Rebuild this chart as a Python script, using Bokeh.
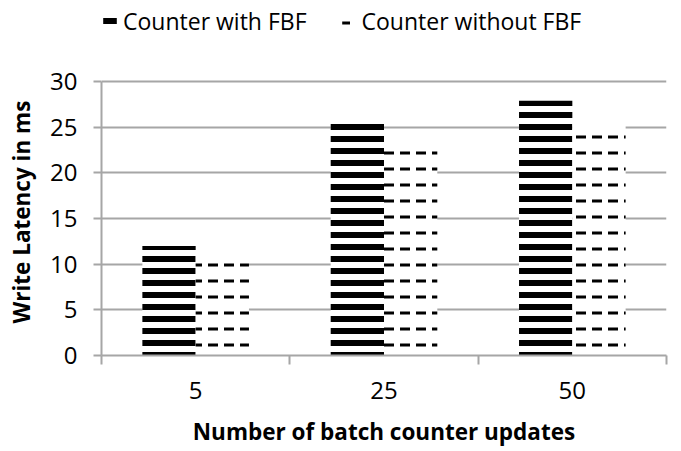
from bokeh.plotting import figure
from bokeh.models import ColumnDataSource, Range1d, FixedTicker, Legend, LegendItem
from bokeh.embed import file_html
from bokeh.resources import INLINE

categories = ["5", "25", "50"]
with_fbf = [12.0, 25.4, 27.9]
without_fbf = [11.0, 23.4, 25.4]
y_ticks = [0, 5, 10, 15, 20, 25, 30]

FONT = "Open Sans"
GRID = "#A6A6A6"

n = len(categories)
centers = [i + 0.5 for i in range(n)]
bw = 0.283
y_max = y_ticks[-1]
# frame extends above the value axis to host the legend (351 px frame, 274 px of axis)
y_top = y_max * 351 / 274

src1 = ColumnDataSource(dict(x=[c - bw / 2 for c in centers], top=with_fbf))
src2 = ColumnDataSource(dict(x=[c + bw / 2 for c in centers], top=without_fbf))

p = figure(width=670, height=451, output_backend="svg", toolbar_location=None,
           x_range=Range1d(0, n), y_range=Range1d(0, y_top),
           min_border_left=101, min_border_right=4, min_border_top=4, min_border_bottom=96)
p.outline_line_color = None
p.background_fill_color = "white"

r1 = p.vbar(x="x", top="top", width=bw, source=src1, fill_color="white", line_color=None,
            hatch_pattern="horizontal_line", hatch_color="black", hatch_scale=12, hatch_weight=6)
r2 = p.vbar(x="x", top="top", width=bw, source=src2, fill_color="white", line_color=None,
            hatch_pattern="horizontal_dash", hatch_color="black", hatch_scale=16, hatch_weight=3)

# grid
p.xgrid.visible = False
p.ygrid.ticker = FixedTicker(ticks=y_ticks)
p.ygrid.grid_line_color = GRID
p.ygrid.grid_line_width = 2

# y axis
ya = p.yaxis[0]
ya.ticker = FixedTicker(ticks=y_ticks)
ya.bounds = (0, y_max)
ya.axis_line_color = GRID
ya.axis_line_width = 2
ya.major_tick_line_color = GRID
ya.major_tick_line_width = 2
ya.major_tick_out = 8
ya.major_tick_in = 0
ya.minor_tick_line_color = None
ya.major_label_text_font = FONT
ya.major_label_text_font_size = "24px"
ya.major_label_text_color = "black"
ya.major_label_standoff = 16
# trailing no-break spaces centre the title on the 0-30 axis instead of the taller frame
ya.axis_label = "Write Latency in ms" + "\u00a0" * 11
ya.axis_label_text_font = FONT
ya.axis_label_text_font_size = "22.5px"
ya.axis_label_text_font_style = "bold"
ya.axis_label_text_color = "black"
ya.axis_label_standoff = 10

# x axis
xa = p.xaxis[0]
xa.ticker = FixedTicker(ticks=centers, minor_ticks=[float(i) for i in range(n + 1)])
xa.major_label_overrides = {c: lab for c, lab in zip(centers, categories)}
xa.axis_line_color = GRID
xa.axis_line_width = 2
xa.major_tick_line_color = None
xa.major_tick_out = 0
xa.major_tick_in = 0
xa.minor_tick_line_color = GRID
xa.minor_tick_line_width = 2
xa.minor_tick_out = 9
xa.minor_tick_in = 0
xa.major_label_text_font = FONT
xa.major_label_text_font_size = "24px"
xa.major_label_text_color = "black"
xa.major_label_standoff = 17
xa.axis_label = "Number of batch counter updates"
xa.axis_label_text_font = FONT
xa.axis_label_text_font_size = "22.5px"
xa.axis_label_text_font_style = "bold"
xa.axis_label_text_color = "black"
xa.axis_label_standoff = 14

legend = Legend(items=[LegendItem(label="Counter with FBF", renderers=[r1]),
                       LegendItem(label="Counter without FBF", renderers=[r2])],
                orientation="horizontal", location=(0, 318),
                glyph_width=17, glyph_height=14, label_standoff=5, spacing=33,
                padding=0, margin=0, border_line_color=None, background_fill_alpha=0,
                label_text_font=FONT, label_text_font_size="23px", label_text_color="black")
p.add_layout(legend, "center")

open("out.html", "w").write(file_html(p, INLINE))
